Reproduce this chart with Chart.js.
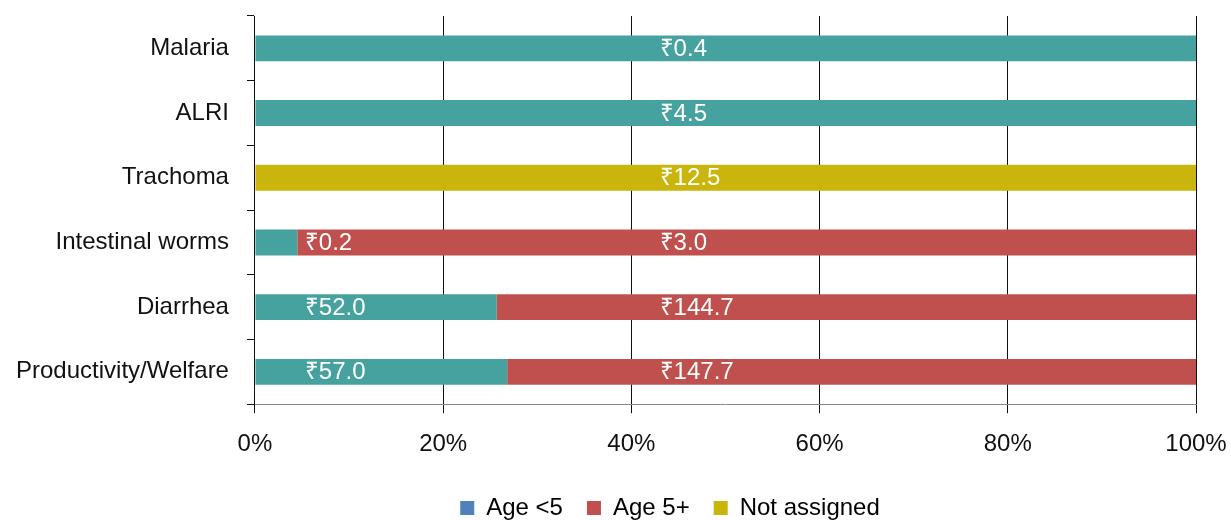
<!DOCTYPE html>
<html>
<head>
<meta charset="utf-8">
<script src="https://cdn.jsdelivr.net/npm/chart.js@4.4.1/dist/chart.umd.min.js"></script>
<style>
  html, body { margin: 0; padding: 0; background: #fff; }
  #wrap { width: 1231px; height: 520px; }
</style>
</head>
<body>
<div id="wrap"><canvas id="costChart"></canvas></div>
<script>
// ---------- data ----------
const categories = ["Malaria", "ALRI", "Trachoma", "Intestinal worms", "Diarrhea", "Productivity/Welfare"];

// share of each bar (percent)
const under5Share = [100, 100, 0, 4.5, 25.7, 26.8];
const over5Share = [0, 0, 0, 95.5, 74.3, 73.2];
const unassignedShare = [0, 0, 100, 0, 0, 0];

// rupee values printed on the bars
const under5Cost = [0.4, 4.5, null, 0.2, 52.0, 57.0];
const over5Cost = [null, null, null, 3.0, 144.7, 147.7];
const unassignedCost = [null, null, 12.5, null, null, null];

const xTicks = [0, 20, 40, 60, 80, 100];
const seriesNames = ["Age <5", "Age 5+", "Not assigned"];

const barColors = ["#46a29f", "#c0504d", "#c9b50b"];
const legendColors = ["#4f81bd", "#c0504d", "#c9b50b"];

const FONT = "'Liberation Sans', Arial, Helvetica, sans-serif";
Chart.defaults.font.family = FONT;
Chart.defaults.font.size = 24;
Chart.defaults.color = "#111";

/* ---------- value labels ---------- */
const valueLabels = {
  id: "valueLabels",
  afterDatasetsDraw(chart, args, opts) {
    const ctx = chart.ctx;
    const x = chart.scales.x;
    ctx.save();
    ctx.fillStyle = "#fff";
    ctx.font = "24px " + FONT;
    ctx.textAlign = "left";
    ctx.textBaseline = "middle";
    chart.data.datasets.forEach((ds, i) => {
      const meta = chart.getDatasetMeta(i);
      meta.data.forEach((bar, j) => {
        const v = ds.costs[j];
        if (v == null) return;
        let start = 0;
        for (let k = 0; k < i; k++) start += chart.data.datasets[k].data[j];
        const full = ds.data[j] >= 99.9;
        const at = (start === 0 && !full) ? opts.inset : opts.mid;
        ctx.fillText("₹" + v.toFixed(1), x.getPixelForValue(at), bar.y + 1);
      });
    });
    ctx.restore();
  }
};

// move legend under the plot like in the original
const legendShift = {
  id: "legendShift",
  afterLayout(chart, args, opts) {
    const lg = chart.legend;
    lg.left += opts.dx; lg.right += opts.dx;
    lg.top += opts.dy; lg.bottom += opts.dy;
  }
};

const noPad = s => { s.paddingTop = 0; s.paddingBottom = 0; s.paddingLeft = 0; s.paddingRight = 0; };

const ctx = document.getElementById("costChart").getContext("2d");

window.costChart = new Chart(ctx, {
  type: "bar",
  data: {
    labels: categories,
    datasets: [
      { label: seriesNames[0], data: under5Share, costs: under5Cost, backgroundColor: barColors[0] },
      { label: seriesNames[1], data: over5Share, costs: over5Cost, backgroundColor: barColors[1] },
      { label: seriesNames[2], data: unassignedShare, costs: unassignedCost, backgroundColor: barColors[2] }
    ]
  },
  options: {
    indexAxis: "y",
    responsive: true,
    maintainAspectRatio: false,
    animation: false,
    datasets: { bar: { barPercentage: 0.4, categoryPercentage: 1, borderWidth: 0 } },
    layout: { padding: { left: 16, right: 35, top: 16, bottom: 0 } },
    scales: {
      x: {
        stacked: true,
        min: 0,
        max: 100,
        afterBuildTicks: s => { s.ticks = xTicks.map(v => ({ value: v })); },
        afterFit: s => { noPad(s); s.height -= 14; },
        ticks: { callback: v => v + "%", padding: 17, color: "#111", maxRotation: 0 },
        grid: { color: "#111", lineWidth: 1, tickLength: 9 },
        border: { color: "#888", width: 1 }
      },
      y: {
        stacked: true,
        afterFit: s => { noPad(s); s.width -= 18; },
        ticks: { padding: 18, color: "#111" },
        grid: { offset: true, drawOnChartArea: false, color: "#111", tickLength: 8 },
        border: { color: "#111", width: 1 }
      }
    },
    plugins: {
      legend: {
        position: "bottom",
        labels: {
          boxWidth: 14,
          boxHeight: 14,
          padding: 24,
          color: "#111",
          font: { size: 24 },
          generateLabels: chart => chart.data.datasets.map((ds, i) => ({
            text: ds.label,
            fillStyle: legendColors[i],
            strokeStyle: legendColors[i],
            lineWidth: 0,
            datasetIndex: i
          }))
        }
      },
      tooltip: { enabled: false },
      valueLabels: { inset: 5.3, mid: 43 },
      legendShift: { dx: 64, dy: 10 }
    }
  },
  plugins: [valueLabels, legendShift]
});
</script>
</body>
</html>
